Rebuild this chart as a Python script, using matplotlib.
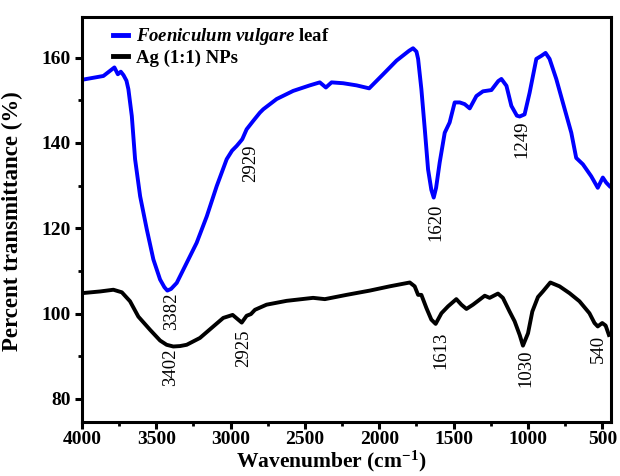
import matplotlib
matplotlib.use('Agg')
import matplotlib.pyplot as plt
from matplotlib.ticker import MultipleLocator

plt.rcParams['font.family'] = ['Liberation Serif', 'DejaVu Serif']
plt.rcParams['mathtext.fontset'] = 'custom'
plt.rcParams['mathtext.rm'] = 'Liberation Serif'
plt.rcParams['mathtext.bf'] = 'Liberation Serif:bold'
plt.rcParams['mathtext.it'] = 'Liberation Serif:italic'
plt.rcParams['mathtext.bfit'] = 'Liberation Serif:italic:bold'

# Foeniculum vulgare leaf extract (blue)
leaf_wn = [4000, 3855, 3781, 3758, 3738, 3720, 3700, 3687, 3664, 3642, 3608, 3563, 3519,
           3474, 3445, 3425, 3400, 3362, 3295, 3228, 3160, 3093, 3026, 2990, 2959, 2930, 2921, 2892,
           2847, 2803, 2780, 2690, 2579, 2467, 2400, 2359, 2321, 2243, 2153, 2068,
           1974, 1884, 1800, 1773, 1750, 1739, 1717, 1694, 1672, 1650, 1634, 1618, 1594, 1560,
           1527, 1493, 1459, 1426, 1392, 1347, 1303, 1246, 1200, 1179, 1145, 1112, 1075, 1056,
           1023, 989, 944, 911, 882, 855, 810, 754, 709, 676, 631, 575, 531, 497,
           474, 452]
leaf_T = [154.8, 155.7, 157.7, 156.1, 156.7, 155.9, 154.6, 152.6, 146.3, 136.2, 127.5, 119.7, 112.7,
          108.0, 106.2, 105.4, 105.8, 107.2, 111.9, 116.6, 122.8, 129.9, 136.2, 138.2, 139.3, 140.5, 140.9, 143.2,
          145.2, 147.1, 147.9, 150.3, 152.2, 153.5, 154.2, 153.0, 154.2, 154.0, 153.5, 152.8,
          156.1, 159.3, 161.6, 162.2, 161.4, 159.7, 152.6, 143.2, 133.8, 129.0, 127.2, 129.5, 135.4, 142.4,
          144.8, 149.5, 149.5, 149.1, 148.1, 151.0, 152.1, 152.4, 154.5, 155.0, 153.4, 148.7, 146.4, 146.2,
          146.7, 151.8, 159.7, 160.4, 161.1, 159.7, 155.0, 148.0, 142.4, 136.5, 135.0, 132.2,
          129.5, 131.9, 130.7, 129.9]

# Ag (1:1) NPs (black)
ag_wn = [4000, 3877, 3788, 3731, 3676, 3620, 3541, 3474, 3430, 3385, 3340, 3295, 3206, 3116,
         3049, 2986, 2925, 2892, 2863, 2836, 2758, 2623, 2445, 2366, 2220, 2064,
         1930, 1795, 1762, 1739, 1717, 1683, 1650, 1621, 1582, 1538, 1482, 1448,
         1414, 1370, 1336, 1291, 1258, 1202, 1169, 1124, 1090, 1056, 1034, 1000,
         971, 933, 900, 850, 788, 721, 654, 587, 553, 531, 501, 478, 456]
ag_T = [104.8, 105.2, 105.6, 105.0, 102.9, 99.3, 96.2, 93.7, 92.7, 92.3, 92.4, 92.7, 94.3, 97.0,
        99.0, 99.7, 97.9, 99.5, 99.9, 100.9, 102.1, 103.0, 103.7, 103.4, 104.4, 105.4,
        106.4, 107.3, 106.4, 104.4, 104.4, 101.3, 98.6, 97.6, 100.1, 101.7, 103.4, 102.1,
        101.1, 102.1, 103.0, 104.2, 103.7, 104.7, 103.7, 100.5, 98.2, 95.0, 92.5, 95.4,
        100.5, 103.9, 105.2, 107.3, 106.4, 104.8, 102.9, 100.1, 97.8, 97.0, 97.8, 97.2, 95.0]

# peak labels: text, x, y (top of text)
leaf_peaks = [('3382', 3395, 104.9), ('2929', 2868, 139.7), ('1620', 1616, 125.8), ('1249', 1038, 145.2)]
ag_peaks = [('3402', 3406, 91.8), ('2925', 2909, 96.4), ('1613', 1589, 95.8), ('1030', 1016, 91.5), ('540', 526, 95.0)]

fig = plt.figure(figsize=(6.2, 4.76), dpi=100)
ax = fig.add_axes([0.132, 0.1134, 0.853, 0.8516])

ax.plot(leaf_wn, leaf_T, color='#0000ff', lw=2.8, solid_joinstyle='round',
        label=r'$\mathbfit{Foeniculum\ vulgare}$ leaf')
ax.plot(ag_wn, ag_T, color='black', lw=2.8, solid_joinstyle='round', label='Ag (1:1) NPs')

for txt, x, y in leaf_peaks + ag_peaks:
    ax.text(x, y, txt, rotation=90, ha='center', va='top', fontsize=13.5)

ax.set_xlim(4000, 444)
ax.set_ylim(74.6, 169.6)
ax.xaxis.set_major_locator(MultipleLocator(500))
ax.xaxis.set_minor_locator(MultipleLocator(250))
ax.yaxis.set_major_locator(MultipleLocator(20))
ax.yaxis.set_minor_locator(MultipleLocator(10))

for s in ax.spines.values():
    s.set_linewidth(2.2)
ax.tick_params(which='major', length=5, width=2.2, direction='out', labelsize=14, pad=3)
ax.tick_params(axis='x', which='major', pad=1.5)
ax.tick_params(which='minor', length=3, width=2, direction='out')
for lbl in ax.get_xticklabels() + ax.get_yticklabels():
    lbl.set_fontweight('bold')

ax.set_xlabel(r'Wavenumber (cm$^{\mathbf{-1}}$)', fontsize=15.5, fontweight='bold')
ax.set_ylabel('Percent transmittance (%)', fontsize=16.5, fontweight='bold')
ax.xaxis.set_label_coords(0.471, -0.067)
ax.yaxis.set_label_coords(-0.112, 0.495)

leg = ax.legend(loc='upper left', frameon=False, prop={'weight': 'bold', 'size': 13.5},
                handlelength=0.8, handletextpad=0.4, labelspacing=0.12,
                bbox_to_anchor=(0.045, 0.995), borderaxespad=0)
for h in leg.get_lines():
    h.set_linewidth(3.5)

fig.savefig('out.png', dpi=100)
